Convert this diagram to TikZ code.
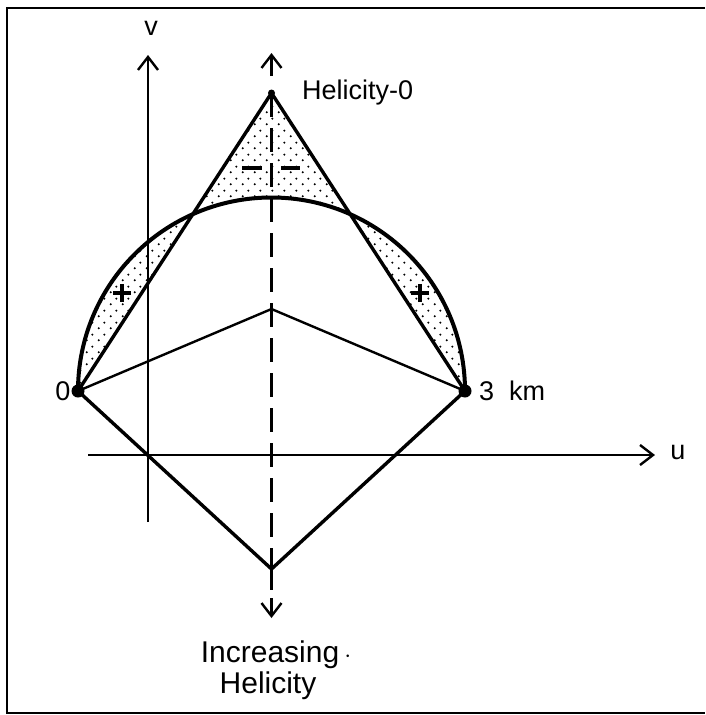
\documentclass[tikz,border=0pt]{standalone}
\usepackage{fontspec}
\setmainfont{Liberation Sans}
\usetikzlibrary{arrows.meta,patterns.meta}
\tikzdeclarepattern{name=sdots, type=uncolored,
  bounding box={(0pt,0pt) and (12pt,12pt)}, tile size={(12pt,12pt)},
  code={\pgfpathcircle{\pgfpoint{3pt}{3pt}}{1.25pt}\pgfpathcircle{\pgfpoint{9pt}{9pt}}{1.25pt}\pgfusepath{fill}}}
\tikzset{
  barb/.style={-{Straight Barb[length=13pt,width=20pt,line width=2.4pt]}},
  axisline/.style={line width=1.8pt},
  heavy/.style={line width=3.4pt},
  thin line/.style={line width=2.4pt},
  lbl/.style={inner sep=0pt, font=\fontsize{27}{30}\selectfont},
  biglbl/.style={inner sep=0pt, font=\fontsize{30}{34}\selectfont},
  sign/.style={line width=3.8pt}
}
\begin{document}
\begin{tikzpicture}[x=1pt,y=-1pt]
\useasboundingbox (0,0) rectangle (706,715);
% frame
\draw[line width=2pt] (705,8) -- (7,8) -- (7,713) -- (705,713);
% key points
\coordinate (O) at (78,391);
\coordinate (K) at (465,391);
\coordinate (A) at (271.5,93);
\coordinate (C) at (271.5,309);
\coordinate (L) at (271.5,569);
\coordinate (Ltop) at (271.5,76);
\coordinate (Ltip) at (271.5,53);
\coordinate (Bstem) at (271.5,590);
\coordinate (Bbase) at (271.5,598);
\coordinate (Btip) at (271.5,618);
\coordinate (Vb) at (148,522);
\coordinate (Vt) at (148,55);
\coordinate (Ul) at (88,455);
\coordinate (Ur) at (655,455);
% shading (symmetric difference of half disc and triangle)
\fill[pattern=sdots, even odd rule]
  (O) arc[start angle=180,end angle=360,radius=193.5] -- cycle
  (O) -- (A) -- (K) -- cycle;
% axes
\draw[axisline,barb] (Vb) -- (Vt);
\draw[axisline,barb] (Ul) -- (Ur);
% dashed vertical
\draw[line width=2.8pt, dash pattern=on 24pt off 11pt] (A) -- (L);
\draw[line width=2.2pt, barb] (Ltop) -- (Ltip);
\draw[line width=2.2pt] (L) -- (Bstem);
\draw[line width=2.2pt, barb] (Bbase) -- (Btip);
% curves and lines
\draw[line width=4pt] (O) arc[start angle=180,end angle=360,radius=193.5];
\draw[heavy] (O) -- (A) -- (K);
\draw[heavy] (O) -- (L) -- (K);
\draw[thin line] (O) -- (C) -- (K);
\fill (O) circle[radius=6.5];
\fill (K) circle[radius=6.5];
\fill (A) circle[radius=3.5];
% signs
\draw[sign] (113,293) -- (131,293) (122,284) -- (122,302);
\draw[sign] (411,293) -- (429,293) (420,284) -- (420,302);
\draw[sign] (242,168) -- (262,168) (281,168) -- (300,168);
% labels
\node[lbl] (lv) at (151,28) {v};
\node[lbl] (lu) at (678,452) {u};
\node[lbl] (l0) at (63,391) {0};
\node[lbl, anchor=west] (l3) at (479,391) {3\ \ km};
\node[lbl, anchor=west] (lh) at (302,93) {Helicity-0};
\node[biglbl] (li) at (276,655) {Increasing\,$\cdot$};
\node[biglbl] (lh2) at (268,686) {Helicity};
\end{tikzpicture}
\end{document}
